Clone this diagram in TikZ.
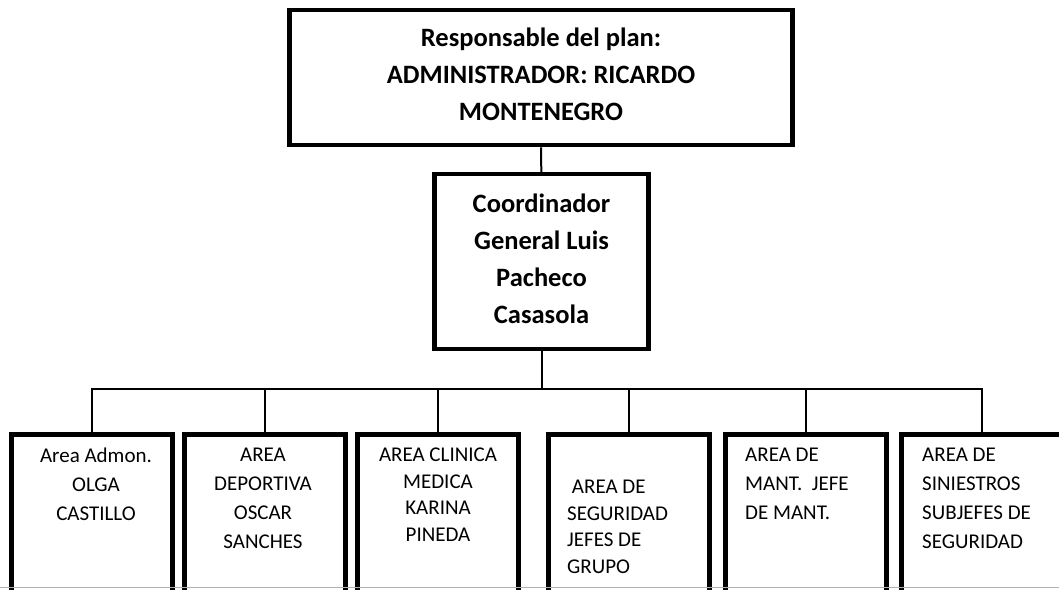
\documentclass[tikz,border=0pt]{standalone}
\usepackage{fontspec}
\setmainfont{Carlito}
\usepackage{tikz}
\usetikzlibrary{positioning}
\tikzset{boss/.style = {draw, line width=4.5pt, align=center,
                        font={\bfseries\fontsize{26.5}{37}\selectfont}}}
\tikzset{area/.style = {draw, line width=4.5pt, anchor=north,
                        minimum width=161pt, minimum height=190pt}}
\tikzset{areatext/.style = {inner sep=0pt, font={\fontsize{21}{29}\selectfont}}}
\tikzset{link/.style = {line width=2pt}}

\begin{document}
\begin{tikzpicture}[x=1pt, y=-1pt]
      \useasboundingbox (0, 0) rectangle (1059, 589);
      \clip (0, 0) rectangle (1059, 589);
      \node[boss, minimum width=503pt, minimum height=135pt] (resp) at (541, 77.5)
            {Responsable del plan:\\ADMINISTRADOR: RICARDO\\MONTENEGRO\rule[-6pt]{0pt}{6pt}};
      \node[boss, minimum width=214pt, minimum height=175pt] (coord) at (541.5, 261.5)
            {Coordinador\\General Luis\\Pacheco\\Casasola\rule[-6pt]{0pt}{6pt}};
      \node[area] (b1) at (92, 432) {};
      \node[area] (b2) at (265, 432) {};
      \node[area] (b3) at (438, 432) {};
      \node[area] (b4) at (629, 432) {};
      \node[area] (b5) at (806, 432) {};
      \node[area] (b6) at (982, 432) {};
      \coordinate (bar) at (541.5, 389);
      \draw[link] (resp) -- (coord);
      \draw[link] (coord.south) -- (bar);
      \draw[link] (b1.north) |- (bar) -| (b6.north);
      \foreach \i in {2, ..., 5}
        \draw[link] (b\i.north |- bar) -- (b\i.north);
      \node[areatext, align=center, below=16pt of b1.north, xshift=4pt] (t1)
            {Area Admon.\\OLGA\\CASTILLO};
      \node[areatext, align=center, below=16pt of b2.north, xshift=-2pt] (t2)
            {AREA\\DEPORTIVA\\OSCAR\\SANCHES};
      \node[areatext, align=center, below=16pt of b3.north, font={\fontsize{21}{26.5}\selectfont}] (t3)
            {AREA CLINICA\\MEDICA\\KARINA\\PINEDA};
      \begin{scope}
        \clip (547, 432) rectangle (711, 576);
        \node[areatext, align=left, anchor=north west, font={\fontsize{21}{26.5}\selectfont}] (t4)
              at (567, 480) {\ AREA DE\\SEGURIDAD\\JEFES DE\\GRUPO};
      \end{scope}
      \node[areatext, align=left, anchor=north west] (t5) at (745, 448)
            {AREA DE\\MANT.\ \ JEFE\\DE MANT.};
      \node[areatext, align=left, anchor=north west] (t6) at (922, 448)
            {AREA DE\\SINIESTROS\\SUBJEFES DE\\SEGURIDAD};
      \draw[gray!60, line width=1pt] (0, 587.5) -- (1059, 587.5);
    \end{tikzpicture}
\end{document}
